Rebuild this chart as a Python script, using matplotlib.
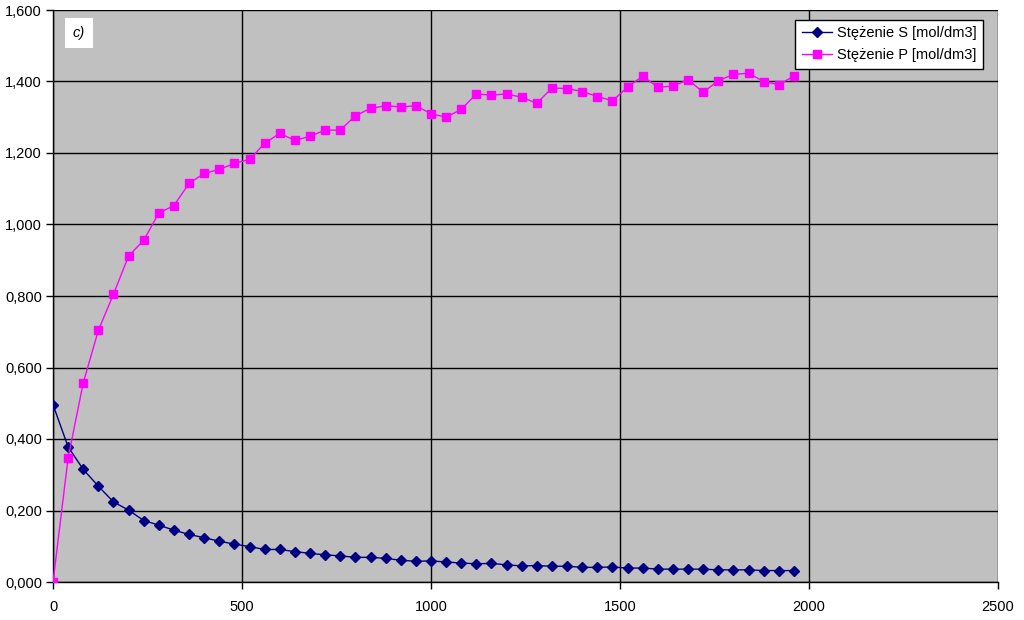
import matplotlib
matplotlib.use("Agg")
import matplotlib.pyplot as plt
from matplotlib.ticker import FuncFormatter, MultipleLocator

plt.rcParams['font.family'] = ['Liberation Sans', 'DejaVu Sans']

time = list(range(0, 2000, 40))

conc_S = [0.496, 0.378, 0.315, 0.268, 0.224, 0.201, 0.172, 0.159, 0.145, 0.133,
          0.124, 0.114, 0.106, 0.099, 0.091, 0.091, 0.085, 0.080, 0.076, 0.073,
          0.069, 0.069, 0.066, 0.061, 0.058, 0.059, 0.056, 0.053, 0.051, 0.052,
          0.048, 0.045, 0.046, 0.044, 0.044, 0.041, 0.041, 0.042, 0.039, 0.039,
          0.036, 0.036, 0.036, 0.036, 0.034, 0.034, 0.034, 0.032, 0.032, 0.032]

conc_P = [0.000, 0.347, 0.557, 0.704, 0.805, 0.912, 0.956, 1.032, 1.053, 1.115,
          1.143, 1.154, 1.171, 1.182, 1.227, 1.255, 1.235, 1.247, 1.264, 1.264,
          1.304, 1.325, 1.332, 1.329, 1.332, 1.310, 1.300, 1.322, 1.365, 1.362,
          1.365, 1.356, 1.339, 1.382, 1.380, 1.372, 1.358, 1.346, 1.384, 1.415,
          1.384, 1.387, 1.405, 1.370, 1.402, 1.420, 1.423, 1.400, 1.391, 1.415]

label_S = "Stężenie S [mol/dm3]"
label_P = "Stężenie P [mol/dm3]"
panel_label = "c)"

fig = plt.figure(figsize=(10.24, 6.2), dpi=100)
ax = fig.add_axes([53/1024, 38/620, 945/1024, 572/620])
ax.set_facecolor('#C0C0C0')

ax.plot(time, conc_S, color='#000080', marker='D', markersize=5, linewidth=1,
        label=label_S, zorder=3)
ax.plot(time, conc_P, color='#FF00FF', marker='s', markersize=6, linewidth=1,
        label=label_P, zorder=3)

ax.set_xlim(0, 2500)
ax.set_ylim(0, 1.6)
ax.xaxis.set_major_locator(MultipleLocator(500))
ax.yaxis.set_major_locator(MultipleLocator(0.2))
ax.yaxis.set_major_formatter(FuncFormatter(lambda v, p: f"{v:.3f}".replace('.', ',')))

ax.grid(True, color='black', linewidth=1)
ax.set_axisbelow(True)
ax.tick_params(axis='both', direction='out', length=5, width=1, color='black',
               labelsize=10.5, labelcolor='black')
ax.tick_params(axis='x', pad=8)
ax.tick_params(axis='y', pad=3)
for s in ['top', 'right']:
    ax.spines[s].set_visible(False)
for s in ['left', 'bottom']:
    ax.spines[s].set_color('black')
    ax.spines[s].set_linewidth(1)

ax.text(0.021, 0.959, panel_label, transform=ax.transAxes, fontsize=10.5,
        style='italic', va='center', ha='left',
        bbox=dict(facecolor='white', edgecolor='none', boxstyle='square,pad=0.55'))

leg = ax.legend(loc='upper right', bbox_to_anchor=(0.984, 0.983), fontsize=10.5,
                frameon=True, fancybox=False, edgecolor='black', framealpha=1,
                borderpad=0.45, labelspacing=0.55, handlelength=2.05,
                handletextpad=0.35, borderaxespad=0)
leg.get_frame().set_linewidth(1)

fig.savefig('out.png', dpi=100, facecolor='white')
